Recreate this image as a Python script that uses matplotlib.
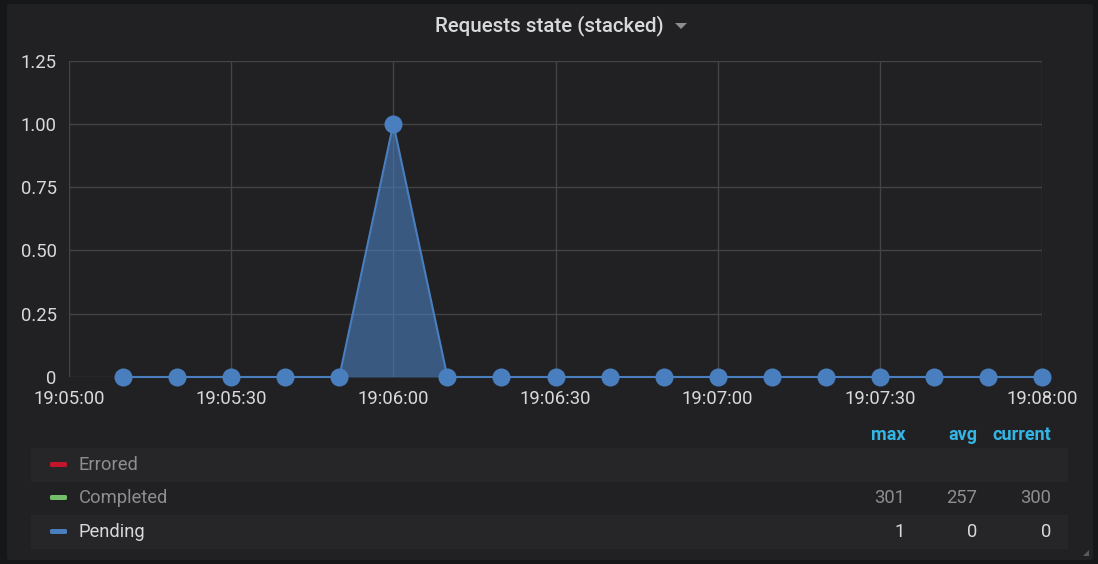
import numpy as np
import pandas as pd
import matplotlib
matplotlib.use("Agg")
import matplotlib.pyplot as plt
import matplotlib.dates as mdates
from matplotlib.patches import FancyBboxPatch, Rectangle, Polygon
from matplotlib.ticker import FuncFormatter

plt.rcParams['font.family'] = ['Roboto', 'DejaVu Sans']

W, H = 1098, 564

# data
times = pd.date_range("2019-01-01 19:05:10", "2019-01-01 19:08:00", freq="10s")
pending = [0, 0, 0, 0, 0, 1, 0, 0, 0, 0, 0, 0, 0, 0, 0, 0, 0, 0]

series_names = ["Errored", "Completed", "Pending"]
series_colors = ["#c4162a", "#73bf69", "#4a7fbf"]
series_max = ["", "301", "1"]
series_avg = ["", "257", "0"]
series_cur = ["", "300", "0"]
stat_headers = ["max", "avg", "current"]

yticks = [0, 0.25, 0.5, 0.75, 1.0, 1.25]
x_start = pd.Timestamp("2019-01-01 19:05:00")
x_end = pd.Timestamp("2019-01-01 19:08:00")

bg_outer = "#161719"
bg_panel = "#212124"
grid_c = "#444445"
text_c = "#d8d9da"
dim_c = "#8e8e90"
blue = "#4a7fbf"


def fx(x):
	return x / W


def fy(y):
	return 1 - y / H


fig = plt.figure(figsize=(W / 100, H / 100), dpi=100)
fig.patch.set_facecolor(bg_outer)

panel = FancyBboxPatch((fx(7), fy(560)), fx(1093) - fx(7), fy(4) - fy(560),
	boxstyle="round,pad=0,rounding_size=0.004", transform=fig.transFigure,
	facecolor=bg_panel, edgecolor="none", zorder=0)
fig.patches.append(panel)

# plot area
ax = fig.add_axes([fx(69), fy(377), fx(1042) - fx(69), fy(60.5) - fy(377)])
ax.set_facecolor(bg_panel)
ax.set_zorder(2)

ax.fill_between(times, 0, pending, color=blue, alpha=0.6, linewidth=0, zorder=3)
ax.plot(times, pending, color=blue, lw=1.5, marker="o", markersize=13,
	markeredgewidth=0, clip_on=False, zorder=4)

ax.set_xlim(x_start, x_end)
ax.set_ylim(0, 1.25)
ax.set_yticks(yticks)
ax.yaxis.set_major_formatter(FuncFormatter(lambda v, p: "0" if v == 0 else f"{v:.2f}"))
ax.xaxis.set_major_locator(mdates.SecondLocator(bysecond=[0, 30]))
ax.xaxis.set_major_formatter(mdates.DateFormatter("%H:%M:%S"))

ax.grid(True, color=grid_c, lw=1)
for s in ax.spines.values():
	s.set_visible(False)
ax.tick_params(length=0, colors=text_c, labelsize=13.3)
ax.tick_params(axis="y", pad=9)
ax.tick_params(axis="x", pad=9)
ax.set_axisbelow(True)

# title
fig.text(fx(549), fy(26), "Requests state (stacked)", color=text_c, fontsize=14.8,
	fontweight="medium", ha="center", va="center")
tri = Polygon([[fx(675), fy(23)], [fx(687), fy(23)], [fx(681), fy(29)]],
	closed=True, transform=fig.transFigure, facecolor="#8e8e90", edgecolor="none")
fig.patches.append(tri)

# legend
stat_x = [905, 977, 1051]
for hdr, sx in zip(stat_headers, stat_x):
	fig.text(fx(sx), fy(435), hdr, color="#33b5e5", fontsize=13, fontweight="bold",
		ha="right", va="center")

row_y = [465, 498, 532]
for i, name in enumerate(series_names):
	y = row_y[i]
	if i % 2 == 0:
		fig.patches.append(Rectangle((fx(31), fy(y + 17)), fx(1068) - fx(31), fy(y - 17) - fy(y + 17),
			transform=fig.transFigure, facecolor="#262628", edgecolor="none", zorder=1))
	fig.patches.append(FancyBboxPatch((fx(50), fy(y + 2)), fx(67) - fx(50), fy(y - 3) - fy(y + 2),
		boxstyle="round,pad=0,rounding_size=0.002", transform=fig.transFigure,
		facecolor=series_colors[i], edgecolor="none", zorder=2))
	c = text_c if name == "Pending" else dim_c
	fig.text(fx(79), fy(y), name, color=c, fontsize=13.2, ha="left", va="center")
	for val, sx in zip([series_max[i], series_avg[i], series_cur[i]], stat_x):
		if val:
			fig.text(fx(sx), fy(y), val, color=c, fontsize=13.2, ha="right", va="center")

# resize handle
fig.patches.append(Polygon([[fx(1089), fy(550)], [fx(1089), fy(556)], [fx(1083), fy(556)]],
	closed=True, transform=fig.transFigure, facecolor="#5a5a5c", edgecolor="none"))

fig.savefig("out.png", dpi=100, facecolor=fig.get_facecolor())
